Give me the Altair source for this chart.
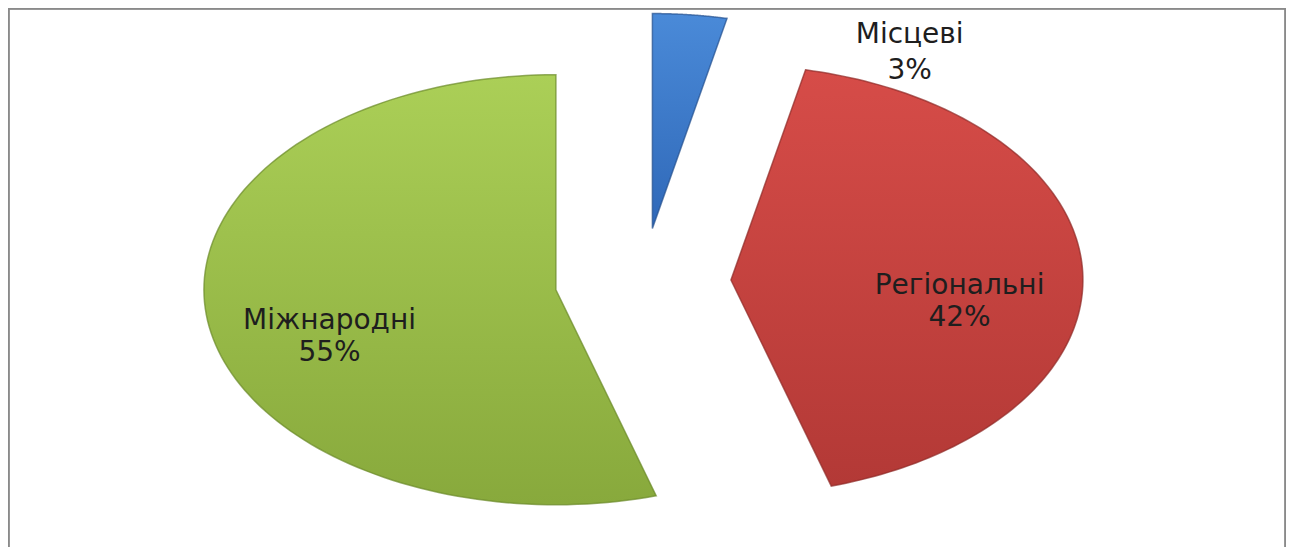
import altair as alt
import pandas as pd

# ---- data (shares; labels show them rounded) ----
categories = ["Місцеві", "Регіональні", "Міжнародні"]
values = [3.4, 42.0, 54.6]
slice_order = [0, 1, 2]

# ---- style ----
fill_top = ["#4a8ad8", "#d64c48", "#abcf57"]
fill_bottom = ["#2f68b8", "#b33936", "#88a93c"]
edge = ["#24508e", "#8e2a27", "#6b8a2a"]
FONT = "DejaVu Sans"

# ---- layout (pixels) ----
W, H = 1278, 539
CX, CY = 635, 274          # pie centre inside the plot area
RX, RY = 352, 215          # horizontal / vertical radius (stretched pie)
EXPLODE = 0.25
N = 120

df = pd.DataFrame({"category": categories, "value": values, "order": slice_order})

xscale = alt.Scale(domain=[-CX / RX, (W - CX) / RX], range=[0, W], nice=False, zero=False)
yscale = alt.Scale(domain=[-(H - CY) / RY, CY / RY], range=[H, 0], nice=False, zero=False)

base = (
    alt.Chart(df)
    .transform_joinaggregate(total="sum(value)")
    .transform_window(cum="sum(value)", sort=[alt.SortField("order")], frame=[None, 0])
    .transform_calculate(
        a0="2*PI*(datum.cum-datum.value)/datum.total",
        a1="2*PI*datum.cum/datum.total",
        pct="round(100*datum.value/datum.total)",
    )
    .transform_calculate(mid="(datum.a0+datum.a1)/2")
    .transform_calculate(
        cx=f"{EXPLODE}*sin(datum.mid)",
        cy=f"{EXPLODE}*cos(datum.mid)",
    )
)

slices_base = (
    base.transform_calculate(pts=f"sequence(0, {N + 2})")
    .transform_flatten(["pts"])
    .transform_calculate(
        r=f"datum.pts <= {N} ? 1 : 0",
        ang=f"datum.a0 + (datum.a1-datum.a0)*min(datum.pts,{N})/{N}",
    )
    .transform_calculate(
        px="datum.cx + datum.r*sin(datum.ang)",
        py="datum.cy + datum.r*cos(datum.ang)",
    )
)

layers = []
for i, cat in enumerate(categories):
    grad = alt.Gradient(
        gradient="linear",
        stops=[
            alt.GradientStop(color=fill_top[i], offset=0),
            alt.GradientStop(color=fill_bottom[i], offset=1),
        ],
        x1=0, x2=0, y1=0, y2=1,
    )
    layer = (
        slices_base.transform_filter(alt.datum.category == cat)
        .mark_line(interpolate="linear-closed", fill=grad, stroke=edge[i],
                   strokeWidth=1.5, strokeOpacity=0.7)
        .encode(
            x=alt.X("px:Q", scale=xscale, axis=None),
            y=alt.Y("py:Q", scale=yscale, axis=None),
            order=alt.Order("pts:Q"),
            detail="category:N",
        )
    )
    layers.append(layer)

labels_base = base.transform_calculate(
    label="datum.category + '\\n' + datum.pct + '%'"
)

inside = (
    labels_base.transform_filter("datum.value >= 10")
    .transform_calculate(
        lx="datum.cx + 0.65*sin(datum.mid)",
        ly="datum.cy + 0.65*cos(datum.mid)",
    )
    .mark_text(font=FONT, fontSize=28, lineBreak="\n", lineHeight=32,
               color="#1e1e1e", align="center", baseline="middle", dy=11)
    .encode(
        x=alt.X("lx:Q", scale=xscale, axis=None),
        y=alt.Y("ly:Q", scale=yscale, axis=None),
        text="label:N",
    )
)

outside = (
    labels_base.transform_filter("datum.value < 10")
    .transform_calculate(
        lx="datum.cx + 1.1*sin(datum.mid+0.62)",
        ly="datum.cy + 1.1*cos(datum.mid+0.62)",
    )
    .mark_text(font=FONT, fontSize=28, lineBreak="\n", lineHeight=36,
               color="#1e1e1e", align="center", baseline="middle", dy=-17)
    .encode(
        x=alt.X("lx:Q", scale=xscale, axis=None),
        y=alt.Y("ly:Q", scale=yscale, axis=None),
        text="label:N",
    )
)

frame_style = dict(color="#8a8a8a", strokeWidth=3)
border_top = alt.Chart(df).mark_rule(**frame_style).encode(
    x=alt.value(0), x2=alt.value(W), y=alt.value(0))
border_left = alt.Chart(df).mark_rule(**frame_style).encode(
    x=alt.value(0), y=alt.value(0), y2=alt.value(H))
border_right = alt.Chart(df).mark_rule(**frame_style).encode(
    x=alt.value(W), y=alt.value(0), y2=alt.value(H))

chart = (
    alt.layer(*layers, inside, outside, border_top, border_left, border_right)
    .properties(width=W, height=H, autosize=alt.AutoSizeParams(type="none"),
                padding=0, background="white")
    .configure_view(stroke=None)
)

chart.save("out.html", embed_options={"renderer": "svg", "actions": False})
